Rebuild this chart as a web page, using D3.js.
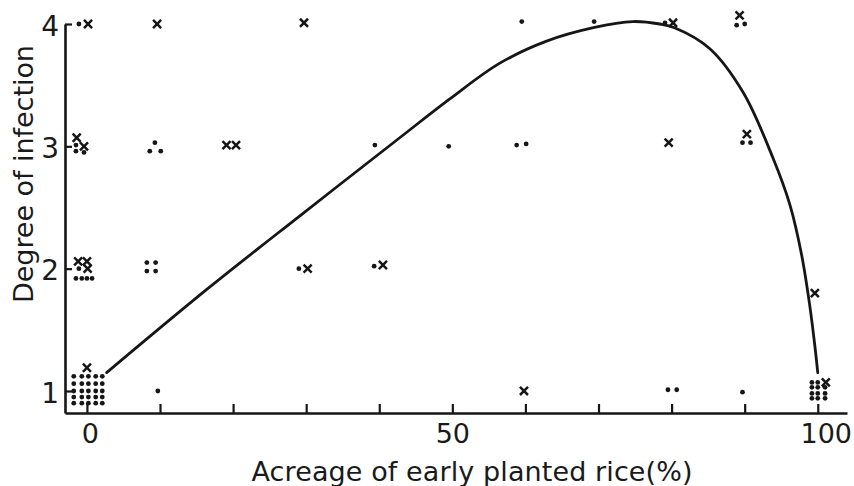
<!DOCTYPE html>
<html>
<head>
<meta charset="utf-8">
<script src="https://cdn.jsdelivr.net/npm/d3@7"></script>
<style>
    body { margin: 0; background: #fff; }
    svg { display: block; }
    text { font-family: "DejaVu Sans", sans-serif; fill: #1a1a1a; }
</style>
</head>
<body>
<svg id="chart" width="854" height="486"></svg>
<script>
// values (x: % early planted, y: degree of infection)
const xTickValues = [0, 10, 20, 30, 40, 50, 60, 70, 80, 90, 100];
const xTickLabels = [0, 50, 100];
const yTickValues = [1, 2, 3, 4];

const dotPoints = [
    [-1.1, 4.00], [59.5, 4.02], [69.4, 4.02], [79.1, 4.01], [88.9, 3.99], [90.0, 4.00],
    [-1.5, 3.01], [-1.5, 2.96], [-0.4, 2.95], [9.3, 3.03], [8.6, 2.96], [10.1, 2.96],
    [39.4, 3.01], [49.5, 3.00], [58.8, 3.01], [60.1, 3.02], [89.7, 3.03], [90.8, 3.03],
    [-1.1, 2.00], [-1.5, 1.92], [-0.7, 1.92], [0.0, 1.92], [0.7, 1.92],
    [8.2, 2.05], [9.4, 2.05], [8.2, 1.98], [9.4, 1.98], [29.0, 2.00], [39.3, 2.02],
    [9.7, 1.00], [79.5, 1.01], [80.7, 1.01], [89.7, 0.99]
];
// the block of dots at 0 %
const dotsAtZero = [
    [-1.8, 1.12], [-0.7, 1.12], [0.2, 1.12], [1.2, 1.12], [2.1, 1.12],
    [-1.8, 1.06], [-0.7, 1.06], [0.2, 1.06], [1.2, 1.06], [2.1, 1.06],
    [-1.8, 1.00], [-0.7, 1.00], [0.2, 1.00], [1.2, 1.00], [2.1, 1.00],
    [-1.8, 0.95], [-0.7, 0.95], [0.2, 0.95], [1.2, 0.95], [2.1, 0.95],
    [-1.8, 0.90], [-0.7, 0.90], [0.2, 0.90], [1.2, 0.90], [2.1, 0.90]
];
// the block of dots at 100 %
const dotsAtHundred = [
    [99.2, 1.07], [100.0, 1.07],
    [99.2, 1.03], [100.0, 1.03], [101.0, 1.03],
    [99.2, 0.98], [100.0, 0.98], [101.0, 0.98],
    [99.2, 0.94], [100.0, 0.94], [101.0, 0.94]
];
const crossPoints = [
    [0.15, 4.00], [9.6, 4.00], [29.7, 4.01], [80.2, 4.01], [89.3, 4.07],
    [-1.4, 3.07], [-0.4, 3.00], [19.1, 3.01], [20.4, 3.01], [79.6, 3.03], [90.3, 3.10],
    [-1.2, 2.06], [0.0, 2.06], [0.1, 2.00], [30.2, 2.00], [40.5, 2.03],
    [99.6, 1.80], [0.0, 1.19], [59.8, 1.00], [101.1, 1.07]
];

const curveX = [2.7, 16.4, 29.1, 42.8, 49.7, 56.5, 62.9, 69.3, 74.7, 78.4, 80.4, 85.2, 89.8, 93.9, 96.2, 97.8, 98.9, 99.6, 100.0];
const curveY = [1.15, 1.83, 2.43, 3.07, 3.39, 3.68, 3.86, 3.97, 4.02, 4.00, 3.97, 3.80, 3.44, 2.90, 2.52, 2.11, 1.70, 1.37, 1.15];

const svg = d3.select("#chart");
const ink = "#161616";

const x = d3.scaleLinear().domain([-3, 104]).range([65, 847]);
const y = d3.scaleLinear().domain([0.82, 4]).range([413, 24]);

// axes, ticks pointing inwards
const xAxis = svg.append("g")
    .attr("transform", "translate(0," + y(0.82) + ")")
    .call(d3.axisBottom(x)
        .tickValues(xTickValues)
        .tickSizeInner(-9)
        .tickSizeOuter(0)
        .tickPadding(11)
        .tickFormat(d => xTickLabels.includes(d) ? d : ""));
xAxis.selectAll("text")
    .attr("font-size", 27)
    .attr("font-family", "DejaVu Sans")
    .attr("dx", d => d === 100 ? 8 : (d === 0 ? 3 : 0));

const yAxis = svg.append("g")
    .attr("transform", "translate(" + x(-3) + ",0)")
    .call(d3.axisLeft(y)
        .tickValues(yTickValues)
        .tickSizeInner(-7)
        .tickSizeOuter(0)
        .tickPadding(6)
        .tickFormat(d3.format("d")));
yAxis.selectAll("text")
    .attr("font-size", 28)
    .attr("font-family", "DejaVu Sans")
    .attr("dy", "0.4em");

svg.selectAll(".domain").attr("stroke", ink).attr("stroke-width", 2.6);
svg.selectAll(".tick line").attr("stroke", ink).attr("stroke-width", 2.2);
svg.selectAll(".tick text").attr("fill", "#2a2a2a");

// axis titles
svg.append("text")
    .attr("x", 472)
    .attr("y", 481)
    .attr("text-anchor", "middle")
    .attr("font-size", 27)
    .attr("fill", "#2a2a2a")
    .attr("textLength", 441)
    .attr("lengthAdjust", "spacing")
    .text("Acreage of early planted rice(%)");

svg.append("text")
    .attr("transform", "translate(33,174) rotate(-90)")
    .attr("text-anchor", "middle")
    .attr("font-size", 27)
    .attr("fill", "#2a2a2a")
    .attr("textLength", 258)
    .attr("lengthAdjust", "spacing")
    .text("Degree of infection");

// fitted curve
const line = d3.line()
    .x(d => x(d[0]))
    .y(d => y(d[1]))
    .curve(d3.curveCatmullRom.alpha(0.5));
svg.append("path")
    .attr("d", line(d3.zip(curveX, curveY)))
    .attr("fill", "none")
    .attr("stroke", ink)
    .attr("stroke-width", 2.8)
    .attr("stroke-linecap", "round");

// dots
svg.append("g").selectAll("circle")
    .data(dotPoints.concat(dotsAtZero, dotsAtHundred))
    .join("circle")
    .attr("cx", d => x(d[0]))
    .attr("cy", d => y(d[1]))
    .attr("r", 2.4)
    .attr("fill", ink);

// crosses
const cross = d3.symbol().type(d3.symbolX).size(44);
svg.append("g").selectAll("path")
    .data(crossPoints)
    .join("path")
    .attr("transform", d => "translate(" + x(d[0]) + "," + y(d[1]) + ")")
    .attr("d", cross())
    .attr("fill", "none")
    .attr("stroke", ink)
    .attr("stroke-width", 2.5);
</script>
</body>
</html>
